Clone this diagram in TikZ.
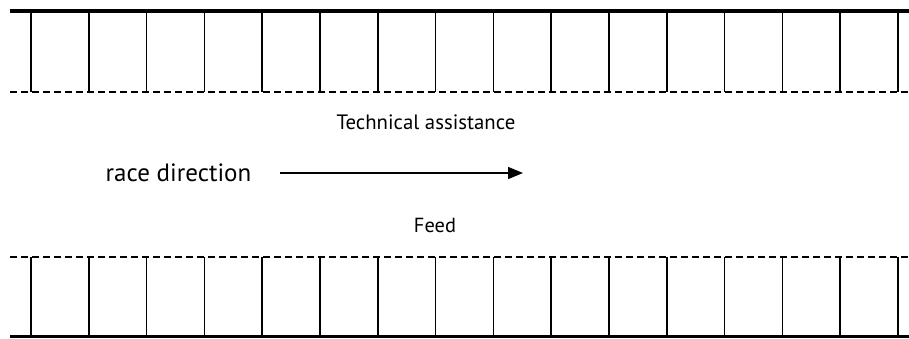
\documentclass[tikz,border=0pt]{standalone}
\usepackage{fontspec}
\setmainfont{PT Sans}
\usepackage{tikz}
\usetikzlibrary{arrows.meta}

\begin{document}
\begin{tikzpicture}[line join=miter,>={Triangle[length=7.5pt,width=6pt]},x=0.5pt,y=-0.5pt]
                \useasboundingbox (0,0) rectangle (909,338);
                % upper row of boxes
                \draw [line width=2.4pt] (10,11)-- (909,11);
                \draw [line width=0.75pt,dash pattern=on 3.5pt off 2pt] (10,92)-- (909,92);
                \foreach \i in {0,...,15}
                    \draw [line width=0.75pt] (31+57.8*\i,11)-- (31+57.8*\i,92);
                % lower row of boxes
                \draw [line width=0.75pt,dash pattern=on 3.5pt off 2pt] (10,257)-- (909,257);
                \draw [line width=1.3pt] (10,336.5)-- (909,336.5);
                \foreach \i in {0,...,15}
                    \draw [line width=0.75pt] (31+57.8*\i,257)-- (31+57.8*\i,336.5);
                % labels
                \node (tech) at (426,122) {\fontsize{10.4pt}{12pt}\selectfont Technical assistance};
                \node (race) at (178.5,173) {\fontsize{12.5pt}{14pt}\selectfont race direction};
                \node (feed) at (435,225) {\fontsize{10.2pt}{12pt}\selectfont Feed};
                \coordinate (dirstart) at (280,173);
                \coordinate (dirend) at (523,173);
                \draw [line width=0.7pt,->] (dirstart)-- (dirend);
            \end{tikzpicture}
\end{document}
